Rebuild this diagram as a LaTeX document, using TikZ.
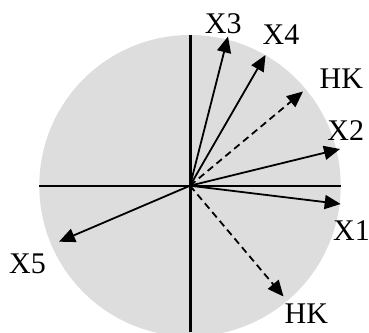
\documentclass[tikz,border=0pt]{standalone}
\usepackage{fontspec}
\setmainfont{Liberation Serif}
\usetikzlibrary{arrows.meta}
\definecolor{disc}{RGB}{221,221,221}
\begin{document}
\begin{tikzpicture}[x=1pt,y=-1pt,
  axis/.style={line width=2.4pt},
  vec/.style={line width=1.8pt,-{Triangle[length=16pt,width=14pt]}},
  dvec/.style={vec,dash pattern=on 7pt off 4.5pt},
  lbl/.style={inner sep=0pt,anchor=base,font=\fontsize{30}{30}\selectfont}]
\useasboundingbox (0,0) rectangle (369,332);
\clip (0,0) rectangle (369,332);
\coordinate (O) at (190,185.7);
\fill[disc] (O) circle[radius=150.7];
\coordinate (top) at (190,34.5);
\coordinate (bot) at (190,332);
\coordinate (lft) at (39.3,185.7);
\coordinate (rgt) at (340.7,185.7);
\draw[axis,line width=3pt] (top) -- (bot);
\draw[axis,line width=2.2pt] (lft) -- (rgt);
\coordinate (t1) at (340.7,204);
\coordinate (t2) at (340,149);
\coordinate (t3) at (228,36.5);
\coordinate (t4) at (265.5,55);
\coordinate (th1) at (303,91.5);
\coordinate (t5) at (59,241.7);
\coordinate (th2) at (283.5,296.5);
\draw[vec] (O) -- (t1);
\draw[vec] (O) -- (t2);
\draw[vec] (O) -- (t3);
\draw[vec] (O) -- (t4);
\draw[vec] (O) -- (t5);
\draw[dvec] (O) -- (th1);
\draw[dvec] (O) -- (th2);
\node[lbl] (l3) at (223.3,33.3) {X3};
\node[lbl] (l4) at (281,44.3) {X4};
\node[lbl] (lh1) at (341.3,88.3) {HK};
\node[lbl] (l2) at (345.8,140) {X2};
\node[lbl] (l1) at (351.5,240) {X1};
\node[lbl] (l5) at (27.5,273) {X5};
\node[lbl] (lh2) at (306.3,323.3) {HK};
\end{tikzpicture}
\end{document}
